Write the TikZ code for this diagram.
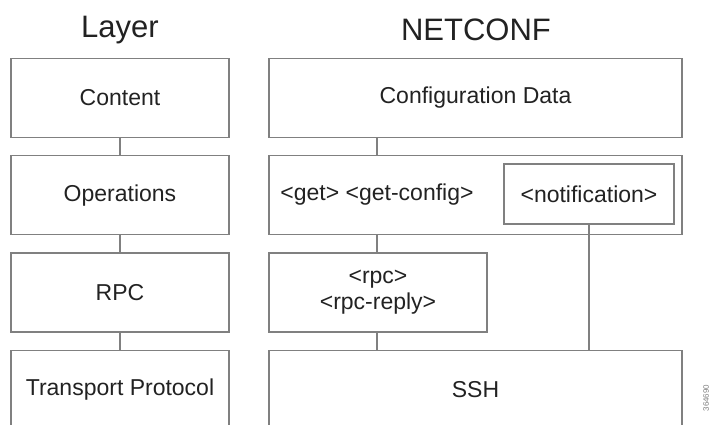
\documentclass[tikz,border=0pt]{standalone}
\usepackage{fontspec}
\setmainfont{Liberation Sans}
\usetikzlibrary{positioning}

\definecolor{boxgray}{RGB}{128,128,128}
\definecolor{textgray}{RGB}{34,34,34}

\tikzset{
  layerbox/.style={draw=boxgray, line width=1.3pt, minimum width=218pt, minimum height=79pt,
                   inner sep=0pt, align=center, text=textgray, font=\fontsize{23}{26}\selectfont},
  netbox/.style={layerbox, minimum width=413pt},
  link/.style={draw=boxgray, line width=1.3pt},
  title/.style={text=textgray, font=\fontsize{31}{34}\selectfont}
}

\begin{document}
\begin{tikzpicture}[x=1pt,y=-1pt]
\useasboundingbox (0,0) rectangle (713,424);
\clip (0,0) rectangle (713,424);

% headings
\node[title] (layer) at (120,30) {Layer};
\node[title] (netconf) at (476,30) {NETCONF};

% generic layer stack
\node[layerbox] (content) at (120,98) {Content};
\node[layerbox, below=17pt of content] (ops) {Operations};
\node[layerbox, below=17pt of ops] (rpc) {RPC};
\node[layerbox, below=17pt of rpc] (transport) {Transport Protocol};

% netconf stack
\node[netbox] (config) at (475.5,98) {Configuration Data};
\node[netbox, below=17pt of config] (opsn) {};
\node[text=textgray, font=\fontsize{23}{26}\selectfont] (getcfg) at (377,195) {<get> <get-config>};
\node[layerbox, minimum width=170pt, minimum height=60pt] (notif) at (589,194) {<notification>};
\node[layerbox, below=17pt of opsn.south west, anchor=north west] (rpcn) {<rpc>\\<rpc-reply>};
\node[netbox, below=17pt of rpcn.south west, anchor=north west] (ssh) {SSH};

% links between layers
\draw[link] (content) -- (ops);
\draw[link] (ops) -- (rpc);
\draw[link] (rpc) -- (transport);
\draw[link] (config.south -| getcfg) -- (opsn.north -| getcfg);
\draw[link] (opsn.south -| getcfg) -- (rpcn.north -| getcfg);
\draw[link] (rpcn.south -| getcfg) -- (ssh.north -| getcfg);
\draw[link] (notif) -- (ssh.north -| notif);

\node[rotate=90, text=boxgray, font=\fontsize{8}{8}\selectfont] (fignum) at (706,398) {364690};
\end{tikzpicture}
\end{document}
